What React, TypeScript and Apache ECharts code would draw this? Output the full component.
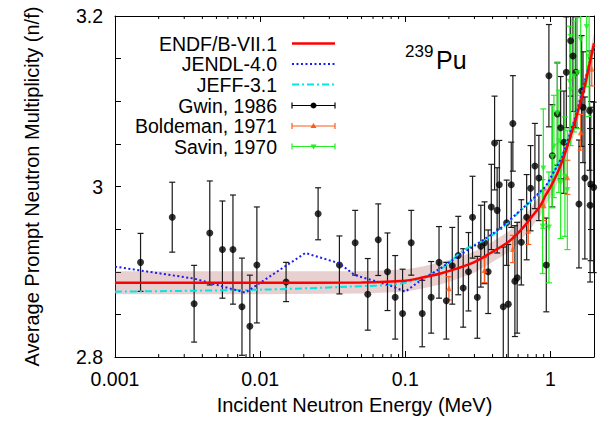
import React, { useEffect, useRef } from 'react';
import * as echarts from 'echarts';

const FONT = "'Liberation Sans', Arial, Helvetica, sans-serif";

// axis ticks
const xMajorTicks = [0.001, 0.01, 0.1, 1];
const xMajorLabels = ['0.001', '0.01', '0.1', '1'];
const xMinorTicks = [
  0.002, 0.003, 0.004, 0.005, 0.006, 0.007, 0.008, 0.009,
  0.02, 0.03, 0.04, 0.05, 0.06, 0.07, 0.08, 0.09,
  0.2, 0.3, 0.4, 0.5, 0.6, 0.7, 0.8, 0.9,
];
const yLabeledTicks = [2.8, 3.0, 3.2];
const yTickLabels = ['2.8', '3', '3.2'];

// ENDF/B-VII.1 evaluation with uncertainty band
const endfE = [0.001, 0.01, 0.05, 0.1, 0.134, 0.175, 0.229, 0.297, 0.387, 0.505, 0.58, 0.658, 0.75, 0.857, 0.93, 1.0, 1.1, 1.21, 1.35, 1.5, 1.62, 1.75, 1.87, 2.0];
const endfNu = [2.887, 2.887, 2.8875, 2.8895, 2.8935, 2.898, 2.904, 2.911, 2.922, 2.934, 2.943, 2.953, 2.965, 2.978, 2.99, 2.999, 3.013, 3.03, 3.054, 3.08, 3.1, 3.122, 3.145, 3.168];
const endfUnc = [0.0135, 0.0135, 0.013, 0.013, 0.013, 0.013, 0.0125, 0.0125, 0.012, 0.012, 0.012, 0.012, 0.012, 0.012, 0.012, 0.012, 0.012, 0.012, 0.012, 0.012, 0.012, 0.012, 0.012, 0.012];

// JENDL-4.0
const jendlE = [0.001, 0.0035, 0.0079, 0.0205, 0.035, 0.045, 0.077, 0.1, 0.128, 0.175, 0.24, 0.33, 0.454, 0.711, 0.929, 1.21, 1.5, 2.0];
const jendlNu = [2.906, 2.892, 2.8755, 2.922, 2.91, 2.896, 2.8845, 2.8766, 2.89, 2.904, 2.92, 2.935, 2.951, 2.981, 3.0, 3.035, 3.083, 3.165];

// JEFF-3.1
const jeffE = [0.001, 0.01, 0.04, 0.1, 0.175, 0.254, 0.368, 0.5, 0.624, 0.857, 1.0, 1.21, 1.5, 2.0];
const jeffNu = [2.8766, 2.879, 2.8825, 2.887, 2.903, 2.9255, 2.939, 2.956, 2.972, 2.993, 3.008, 3.038, 3.084, 3.165];

// Gwin, 1986
const gwinE = [
  0.0015, 0.00248, 0.00351, 0.0045, 0.0055, 0.0065, 0.0075, 0.0085, 0.0095, 0.0151,
  0.0251, 0.0352, 0.0452, 0.0552, 0.0652, 0.0755, 0.0853, 0.0959, 0.11, 0.131,
  0.151, 0.171, 0.192, 0.211, 0.232, 0.251, 0.273, 0.291, 0.314, 0.332,
  0.352, 0.373, 0.392, 0.413, 0.43, 0.445, 0.474, 0.5, 0.513, 0.538,
  0.552, 0.57, 0.591, 0.631, 0.687, 0.731, 0.783, 0.834, 0.938, 0.978,
  1.032, 1.118, 1.178, 1.241, 1.289, 1.38, 1.432, 1.5, 1.575, 1.644,
  1.68, 1.73, 1.866, 1.88, 1.9, 1.99,
];
const gwinNu = [
  2.911, 2.964, 2.8625, 2.9455, 2.926, 2.926, 2.859, 2.836, 2.908, 2.888,
  2.968, 2.908, 2.934, 2.8735, 2.9376, 2.9, 2.87, 2.851, 2.934, 2.851,
  2.87, 2.911, 2.866, 2.907, 2.919, 2.881, 2.9, 2.964, 2.87, 2.93,
  2.934, 2.9, 2.976, 3.051, 2.972, 3.002, 2.859, 2.9575, 2.862, 3.002,
  3.074, 2.889, 2.893, 2.9345, 2.964, 2.998, 3.024, 3.01, 2.908, 3.13,
  3.036, 3.085, 3.069, 3.052, 3.134, 3.171, 3.153, 3.134, 2.9795, 3.112,
  3.093, 3.01, 3.089, 2.978, 3.003, 2.999,
];
const gwinErr = [
  0.034, 0.041, 0.045, 0.061, 0.057, 0.064, 0.057, 0.06, 0.068, 0.023,
  0.0305, 0.034, 0.038, 0.042, 0.042, 0.0455, 0.049, 0.052, 0.038, 0.039,
  0.042, 0.042, 0.045, 0.045, 0.046, 0.046, 0.046, 0.048, 0.048, 0.048,
  0.048, 0.049, 0.05, 0.055, 0.05, 0.052, 0.07, 0.05, 0.07, 0.05,
  0.056, 0.065, 0.065, 0.05, 0.05, 0.05, 0.05, 0.05, 0.055, 0.06,
  0.06, 0.06, 0.06, 0.06, 0.065, 0.065, 0.065, 0.065, 0.075, 0.065,
  0.065, 0.095, 0.07, 0.09, 0.09, 0.1,
];

// Boldeman, 1971
const boldE = [0.2, 0.352, 0.552, 0.705, 0.9, 1.31, 1.62, 1.93];
const boldNu = [2.8806, 2.902, 2.9267, 2.948, 2.978, 3.0108, 3.0636, 3.138];
const boldErr = [0.0137, 0.0147, 0.016, 0.016, 0.018, 0.02, 0.021, 0.02];

// Savin, 1970
const savinE = [0.885, 0.895, 0.978, 1.032, 1.059, 1.118, 1.146, 1.178, 1.261, 1.31, 1.36, 1.38, 1.455, 1.535, 1.62, 1.78, 1.85];
const savinNu = [2.953, 3.021, 2.952, 3.035, 3.047, 3.086, 3.053, 3.004, 3.0115, 2.996, 3.123, 3.113, 3.129, 3.133, 3.172, 3.187, 3.152];
const savinErr = [0.055, 0.07, 0.065, 0.06, 0.06, 0.06, 0.06, 0.065, 0.07, 0.07, 0.065, 0.065, 0.065, 0.065, 0.065, 0.07, 0.07];

const RED = '#ff0000';
const BLUE = '#1a1aff';
const CYAN = '#00e6e6';
const BLACK = '#000000';
const ORANGE = '#ff5a1a';
const GREEN = '#22ee22';

const zip2 = (a: number[], b: number[]) => a.map((v, i) => [v, b[i]]);
const zip3 = (a: number[], b: number[], c: number[]) => a.map((v, i) => [v, b[i], c[i]]);

const errorBars = (color: string, width: number) => (params: any, api: any) => {
  const e = api.value(0);
  const v = api.value(1);
  const d = api.value(2);
  const cs = params.coordSys;
  const pLo = api.coord([e, v - d]);
  const pHi = api.coord([e, v + d]);
  const x = pLo[0];
  const top = Math.max(cs.y, pHi[1]);
  const bot = Math.min(cs.y + cs.height, pLo[1]);
  if (top >= bot) return null;
  const st = { stroke: color, lineWidth: width };
  const children: any[] = [
    { type: 'line', shape: { x1: x, y1: top, x2: x, y2: bot }, style: st },
  ];
  if (pHi[1] >= cs.y) children.push({ type: 'line', shape: { x1: x - 3, y1: pHi[1], x2: x + 3, y2: pHi[1] }, style: st });
  if (pLo[1] <= cs.y + cs.height) children.push({ type: 'line', shape: { x1: x - 3, y1: pLo[1], x2: x + 3, y2: pLo[1] }, style: st });
  return { type: 'group', children };
};

// uncertainty band drawn as one polygon through the axis scales
const bandItem = (params: any, api: any) => {
  if (params.dataIndex !== 0) return null;
  const upper = endfE.map((e, i) => api.coord([e, endfNu[i] + endfUnc[i]]));
  const lower = endfE.map((e, i) => api.coord([e, endfNu[i] - endfUnc[i]])).reverse();
  return {
    type: 'polygon',
    shape: { points: upper.concat(lower) },
    style: { fill: 'rgba(180,100,100,0.3)', stroke: 'none' },
  };
};

const minorTickItem = (params: any, api: any) => {
  const e = api.value(0);
  const cs = params.coordSys;
  const p = api.coord([e, 2.8]);
  const x = p[0];
  const st = { stroke: '#000', lineWidth: 1 };
  return {
    type: 'group',
    children: [
      { type: 'line', shape: { x1: x, y1: cs.y + cs.height, x2: x, y2: cs.y + cs.height - 3 }, style: st },
      { type: 'line', shape: { x1: x, y1: cs.y, x2: x, y2: cs.y + 3 }, style: st },
    ],
  };
};

const xLabel = (v: number) => {
  const i = xMajorTicks.findIndex((t) => Math.abs(v / t - 1) < 1e-6);
  return i >= 0 ? xMajorLabels[i] : '';
};
const yLabel = (v: number) => {
  const i = yLabeledTicks.findIndex((t) => Math.abs(v - t) < 1e-6);
  return i >= 0 ? yTickLabels[i] : '';
};

function buildLegend() {
  const names = ['ENDF/B-VII.1', 'JENDL-4.0', 'JEFF-3.1', 'Gwin, 1986', 'Boldeman, 1971', 'Savin, 1970'];
  const rows = [43.5, 64, 84.5, 105.5, 126, 146.5];
  const tx = 277;
  const x1 = 292;
  const x2 = 335;
  const xm = 313.5;
  const els: any[] = [];
  names.forEach((n, i) => {
    els.push({
      type: 'text',
      x: tx,
      y: rows[i],
      style: { text: n, fontSize: 19.5, fontFamily: FONT, fill: '#000', align: 'right', verticalAlign: 'middle' },
    });
  });
  els.push({ type: 'line', shape: { x1, y1: rows[0], x2, y2: rows[0] }, style: { stroke: RED, lineWidth: 2.5 } });
  els.push({ type: 'line', shape: { x1, y1: rows[1], x2, y2: rows[1] }, style: { stroke: BLUE, lineWidth: 2, lineDash: [2, 2.5] } });
  els.push({ type: 'line', shape: { x1, y1: rows[2], x2, y2: rows[2] }, style: { stroke: CYAN, lineWidth: 2, lineDash: [7, 3, 2, 3] } });
  const eb = (y: number, color: string) => {
    els.push({ type: 'line', shape: { x1, y1: y, x2, y2: y }, style: { stroke: color, lineWidth: 1.2 } });
    els.push({ type: 'line', shape: { x1, y1: y - 3, x2: x1, y2: y + 3 }, style: { stroke: color, lineWidth: 1.2 } });
    els.push({ type: 'line', shape: { x1: x2, y1: y - 3, x2, y2: y + 3 }, style: { stroke: color, lineWidth: 1.2 } });
  };
  eb(rows[3], BLACK);
  els.push({ type: 'circle', shape: { cx: xm, cy: rows[3], r: 3 }, style: { fill: BLACK } });
  eb(rows[4], ORANGE);
  els.push({ type: 'polygon', shape: { points: [[xm, rows[4] - 3], [xm - 3, rows[4] + 2], [xm + 3, rows[4] + 2]] }, style: { fill: ORANGE } });
  eb(rows[5], GREEN);
  els.push({ type: 'polygon', shape: { points: [[xm, rows[5] + 3], [xm - 3, rows[5] - 2], [xm + 3, rows[5] - 2]] }, style: { fill: GREEN } });

  els.push({ type: 'text', x: 405, y: 51, style: { text: '239', fontSize: 17, fontFamily: FONT, fill: '#000', align: 'left', verticalAlign: 'middle' } });
  els.push({ type: 'text', x: 436, y: 60, style: { text: 'Pu', fontSize: 25, fontFamily: FONT, fill: '#000', align: 'left', verticalAlign: 'middle' } });
  return els;
}

export default function App() {
  const ref = useRef<HTMLDivElement>(null);
  useEffect(() => {
    if (!ref.current) return;
    const chart = echarts.init(ref.current, null, { renderer: 'svg' });
    const xBase = {
      type: 'log' as const,
      logBase: 10,
      min: 0.001,
      max: 2,
      axisLine: { show: true, lineStyle: { color: '#000', width: 1 } },
      axisTick: { show: true, inside: true, length: 6, lineStyle: { color: '#000' } },
      splitLine: { show: false },
      minorTick: { show: false },
    };
    const yBase = {
      type: 'value' as const,
      min: 2.8,
      max: 3.2,
      interval: 0.05,
      axisLine: { show: true, lineStyle: { color: '#000', width: 1 } },
      axisTick: { show: true, inside: true, length: 6, lineStyle: { color: '#000' } },
      splitLine: { show: false },
    };
    chart.setOption({
      animation: false,
      backgroundColor: '#fff',
      textStyle: { fontFamily: FONT },
      grid: { left: 115, right: 4, top: 16, bottom: 65, containLabel: false },
      xAxis: [
        {
          ...xBase,
          position: 'bottom',
          name: 'Incident Neutron Energy (MeV)',
          nameLocation: 'middle',
          nameGap: 38,
          nameTextStyle: { fontSize: 20, fontFamily: FONT, color: '#000' },
          axisLabel: { show: true, formatter: xLabel, fontSize: 19.5, fontFamily: FONT, color: '#000', margin: 12, showMaxLabel: false },
        },
        { ...xBase, position: 'top', axisLabel: { show: false } },
      ],
      yAxis: [
        {
          ...yBase,
          position: 'left',
          name: 'Average Prompt Neutron Multiplicity (n/f)',
          nameLocation: 'middle',
          nameGap: 73,
          nameTextStyle: { fontSize: 20, fontFamily: FONT, color: '#000' },
          axisLabel: { show: true, formatter: yLabel, fontSize: 19.5, fontFamily: FONT, color: '#000', margin: 12 },
        },
        { ...yBase, position: 'right', axisLabel: { show: false } },
      ],
      series: [
        {
          type: 'custom', name: 'ENDF band', data: zip3(endfE, endfNu, endfUnc), encode: { x: 0, y: 1 },
          renderItem: bandItem, z: 1, silent: true,
        },
        {
          type: 'custom', name: 'Gwin-err', data: zip3(gwinE, gwinNu, gwinErr), encode: { x: 0, y: 1 },
          renderItem: errorBars('#1a1a1a', 1.2), z: 2, silent: true,
        },
        {
          type: 'custom', name: 'Boldeman-err', data: zip3(boldE, boldNu, boldErr), encode: { x: 0, y: 1 },
          renderItem: errorBars(ORANGE, 1.2), z: 2, silent: true,
        },
        {
          type: 'custom', name: 'Savin-err', data: zip3(savinE, savinNu, savinErr), encode: { x: 0, y: 1 },
          renderItem: errorBars(GREEN, 1.2), z: 2, silent: true,
        },
        {
          type: 'scatter', name: 'Gwin, 1986', data: zip2(gwinE, gwinNu), symbol: 'circle', symbolSize: 7,
          itemStyle: { color: BLACK }, z: 3,
        },
        {
          type: 'scatter', name: 'Boldeman, 1971', data: zip2(boldE, boldNu), symbol: 'triangle', symbolSize: 6,
          itemStyle: { color: ORANGE }, z: 3,
        },
        {
          type: 'scatter', name: 'Savin, 1970', data: zip2(savinE, savinNu), symbol: 'triangle', symbolRotate: 180, symbolSize: 6,
          itemStyle: { color: GREEN }, z: 3,
        },
        {
          type: 'line', name: 'JEFF-3.1', data: zip2(jeffE, jeffNu), symbol: 'none', smooth: 0.3,
          lineStyle: { color: CYAN, width: 2, type: [7, 3, 2, 3] }, z: 4,
        },
        {
          type: 'line', name: 'JENDL-4.0', data: zip2(jendlE, jendlNu), symbol: 'none',
          lineStyle: { color: BLUE, width: 2, type: [2, 2.5] }, z: 4,
        },
        {
          type: 'line', name: 'ENDF/B-VII.1', data: zip2(endfE, endfNu), symbol: 'none', smooth: 0.3,
          lineStyle: { color: RED, width: 2.5 }, z: 5,
        },
        {
          type: 'custom', name: 'minor-ticks', data: xMinorTicks.map((v) => [v, 2.8]), encode: { x: 0, y: 1 },
          renderItem: minorTickItem, z: 6, silent: true,
        },
      ],
      graphic: buildLegend(),
    });
    return () => chart.dispose();
  }, []);
  return <div ref={ref} style={{ width: 598, height: 422, position: 'absolute', left: 0, top: 0 }} />;
}
